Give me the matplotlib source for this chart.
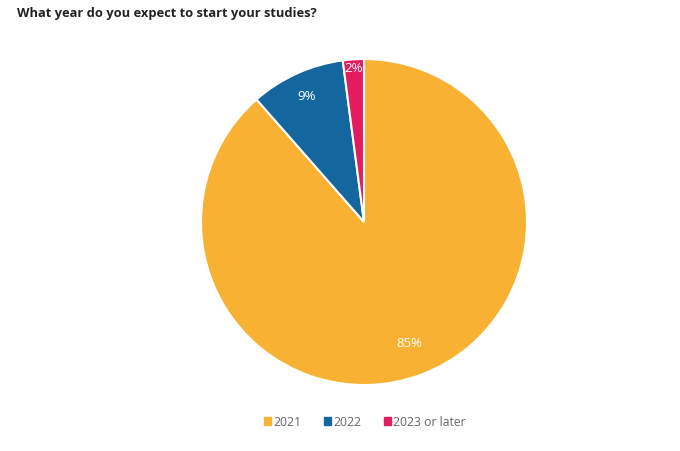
import matplotlib.pyplot as plt
import numpy as np

plt.rcParams['font.family'] = ['Open Sans', 'DejaVu Sans']

# Dados
anos = ['2021', '2022', '2023 or later']
percentuais = [85, 9, 2]
cores = ['#F8B133', '#13679E', '#E31B5F']
dist_rotulos = [0.79, 0.85, 0.95]

fig = plt.figure(figsize=(6.8, 4.52), dpi=100)
ax = fig.add_axes([201 / 680, 66 / 452, 326 / 680, 326 / 452])

fatias, _ = ax.pie(percentuais, colors=cores, startangle=90, counterclock=False,
                   radius=1, wedgeprops=dict(edgecolor='white', linewidth=1.5))
ax.set_xlim(-1, 1)
ax.set_ylim(-1, 1)
ax.axis('off')

# rótulos percentuais dentro das fatias
for fatia, p, d in zip(fatias, percentuais, dist_rotulos):
    ang = np.deg2rad((fatia.theta1 + fatia.theta2) / 2)
    ax.text(d * np.cos(ang), d * np.sin(ang), f'{p}%', color='white',
            fontsize=9.5, ha='center', va='center')

fig.text(17 / 680, 1 - 14 / 452, 'What year do you expect to start your studies?',
         fontsize=9.3, fontweight='bold', color='#222222', ha='left', va='center')

alças = [plt.Rectangle((0, 0), 1, 1, color=c) for c in cores]
fig.legend(alças, anos, loc='center', bbox_to_anchor=(365 / 680, 1 - 423 / 452),
           ncol=3, frameon=False, fontsize=8.8, labelcolor='#666666',
           handlelength=0.6, handleheight=0.6, handletextpad=0.2, columnspacing=1.8)

plt.savefig('out.png', dpi=100)
